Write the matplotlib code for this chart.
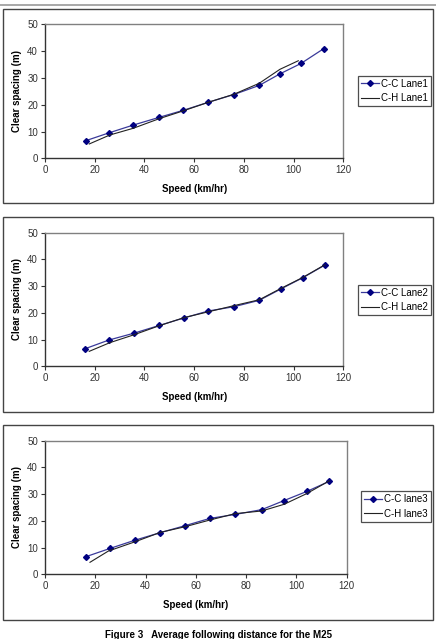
import matplotlib
matplotlib.use("Agg")
import matplotlib.pyplot as plt
from matplotlib.patches import Rectangle
from matplotlib.lines import Line2D

plt.rcParams['font.family'] = ['Liberation Sans', 'DejaVu Sans']

# Panel 1 (Lane1)
cc1_x = [16.5, 25.6, 35.5, 46.0, 55.6, 65.7, 76.0, 86.2, 94.5, 103.0, 112.1]
cc1_y = [6.6, 9.45, 12.4, 15.3, 17.9, 20.9, 23.8, 27.2, 31.5, 35.4, 40.9]
ch1_x = [17.8, 26.1, 35.5, 46.0, 55.6, 65.7, 76.0, 86.2, 94.5, 101.9]
ch1_y = [5.35, 8.7, 11.2, 14.8, 17.7, 20.9, 23.9, 28.0, 33.2, 36.4]

# Panel 2 (Lane2)
cc2_x = [16.2, 25.6, 35.8, 46.0, 55.9, 65.7, 76.0, 86.2, 94.8, 103.8, 112.6]
cc2_y = [6.6, 9.8, 12.4, 15.3, 18.1, 20.7, 22.3, 24.7, 28.9, 33.2, 37.9]
ch2_x = [17.8, 26.1, 35.8, 46.0, 55.9, 65.7, 76.0, 86.2, 94.8, 103.8, 112.6]
ch2_y = [5.6, 8.85, 11.8, 15.2, 18.2, 20.4, 22.7, 24.9, 29.1, 33.3, 38.0]

# Panel 3 (lane3)
cc3_x = [16.3, 25.9, 35.9, 45.9, 55.7, 65.5, 75.6, 86.2, 95.1, 104.1, 113.1]
cc3_y = [6.6, 9.7, 12.8, 15.6, 18.2, 20.9, 22.4, 24.2, 27.6, 31.0, 34.8]
ch3_x = [17.9, 25.2, 35.9, 45.9, 55.7, 65.5, 75.6, 86.2, 95.1, 104.1, 113.1]
ch3_y = [4.5, 8.7, 12.2, 15.7, 17.8, 20.3, 22.7, 23.7, 26.2, 30.2, 35.0]

cc_labels = ["C-C Lane1", "C-C Lane2", "C-C lane3"]
ch_labels = ["C-H Lane1", "C-H Lane2", "C-H lane3"]

xlabel = "Speed (km/hr)"
ylabel = "Clear spacing (m)"
caption = "Figure 3   Average following distance for the M25"

W, H = 436, 639
fig = plt.figure(figsize=(W / 100, H / 100), dpi=100)

def fx(px):
    return px / W

def fy(py):
    return 1 - py / H

# top rule
fig.add_artist(Line2D([0, 1], [fy(5), fy(5)], color='#999999', lw=1.2))

panels = [
    dict(frame=(2.5, 9, 433, 203), ax=(45, 24.3, 343.3, 158.3),
         leg=(359, 76, 430, 106),
         data=(cc1_x, cc1_y, ch1_x, ch1_y), lab=(cc_labels[0], ch_labels[0])),
    dict(frame=(2.5, 217, 433, 412), ax=(45, 232.7, 343.3, 366.3),
         leg=(359, 286, 430, 314),
         data=(cc2_x, cc2_y, ch2_x, ch2_y), lab=(cc_labels[1], ch_labels[1])),
    dict(frame=(2.5, 425, 433, 620), ax=(45, 440.7, 346.7, 574.3),
         leg=(362, 491, 430, 522),
         data=(cc3_x, cc3_y, ch3_x, ch3_y), lab=(cc_labels[2], ch_labels[2])),
]

for p in panels:
    x0, y0, x1, y1 = p['frame']
    fig.add_artist(Rectangle((fx(x0), fy(y1)), fx(x1 - x0), (y1 - y0) / H,
                             transform=fig.transFigure, fill=False,
                             edgecolor='#444444', lw=1.0))
    ax0, ay0, ax1, ay1 = p['ax']
    ax = fig.add_axes([fx(ax0), fy(ay1), fx(ax1 - ax0), (ay1 - ay0) / H])
    ccx, ccy, chx, chy = p['data']
    l1, = ax.plot(ccx, ccy, color='#3a3a9a', lw=0.9, marker='D', markersize=3.0,
                  markerfacecolor='#000080', markeredgecolor='#000080',
                  label=p['lab'][0])
    l2, = ax.plot(chx, chy, color='#222222', lw=0.8, label=p['lab'][1])
    ax.set_xlim(0, 120)
    ax.set_ylim(0, 50)
    ax.set_xticks(range(0, 121, 20))
    ax.set_yticks(range(0, 51, 10))
    ax.tick_params(axis='both', labelsize=7, length=3, width=0.8,
                   direction='out', pad=2, colors='#333333')
    for s in ax.spines.values():
        s.set_color('#808080')
        s.set_linewidth(1.0)
    ax.spines['left'].set_color('#333333')
    ax.spines['bottom'].set_color('#333333')
    ax.set_xlabel(xlabel, fontsize=7, fontweight='bold', labelpad=6)
    ax.set_ylabel(ylabel, fontsize=7, fontweight='bold', labelpad=4)
    lx0, ly0, lx1, ly1 = p['leg']
    leg = fig.legend(handles=[l1, l2], loc='center',
                     bbox_to_anchor=(fx((lx0 + lx1) / 2), fy((ly0 + ly1) / 2)),
                     fontsize=7, frameon=True, fancybox=False,
                     handlelength=1.9, handletextpad=0.2,
                     borderpad=0.3, labelspacing=0.45, borderaxespad=0)
    leg.get_frame().set_edgecolor('#222222')
    leg.get_frame().set_linewidth(0.9)

fig.text(0.5, fy(635), caption, ha='center', va='center', fontsize=7,
         fontweight='bold')

fig.savefig("out.png", dpi=100)
